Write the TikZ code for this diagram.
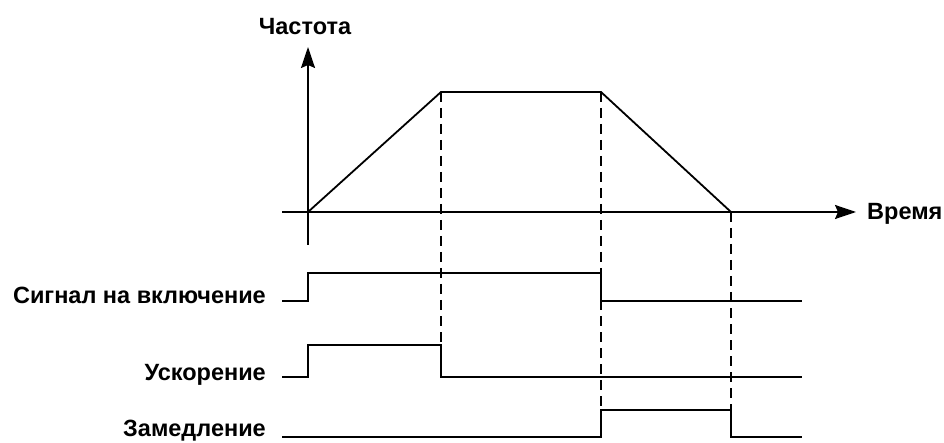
\documentclass[tikz,border=0pt]{standalone}
\usepackage{fontspec}
\setmainfont{Liberation Sans}
\usetikzlibrary{arrows.meta}

\begin{document}
\begin{tikzpicture}[x=1pt,y=-1pt,
    axis/.style={line width=1.8pt,-{Stealth[length=21pt,width=14pt,inset=3pt]}},
    wave/.style={line width=1.8pt},
    guide/.style={line width=1.8pt,dash pattern=on 10pt off 6pt},
    lbl/.style={font=\fontsize{23.5}{26}\selectfont\bfseries,inner sep=0pt}]
  \useasboundingbox (0,0) rectangle (944,443);
  % axes
  \coordinate (o) at (308,212);
  \coordinate (ybot) at (308,245);
  \coordinate (ytop) at (308,47);
  \coordinate (xleft) at (282,212);
  \coordinate (xright) at (856,212);
  \node[lbl,anchor=base] (freq) at (305,35) {Частота};
  \node[lbl,anchor=base west] (time) at (867,220) {Время};
  \draw[axis] (ybot) -- (ytop);
  \draw[axis] (xleft) -- (xright);
  % frequency profile
  \coordinate (acc) at (441,92);
  \coordinate (dec) at (601,92);
  \coordinate (stop) at (731,212);
  \draw[wave] (o) -- (acc) -- (dec) -- (stop);
  % guide lines
  \draw[guide] (acc) -- (441,377);
  \draw[guide] (dec) -- (601,437);
  \draw[guide] (stop) -- (731,437);
  % signals
  \node[lbl,anchor=base east] (run) at (266,304) {Сигнал на включение};
  \node[lbl,anchor=base east] (up) at (266,380) {Ускорение};
  \node[lbl,anchor=base east] (down) at (266,436) {Замедление};
  \draw[wave] (282,301) -- (308,301) -- (308,273) -- (601,273) -- (601,301) -- (802,301);
  \draw[wave] (282,377) -- (308,377) -- (308,345) -- (441,345) -- (441,377) -- (802,377);
  \draw[wave] (282,437) -- (601,437) -- (601,410) -- (731,410) -- (731,437) -- (802,437);
\end{tikzpicture}
\end{document}
